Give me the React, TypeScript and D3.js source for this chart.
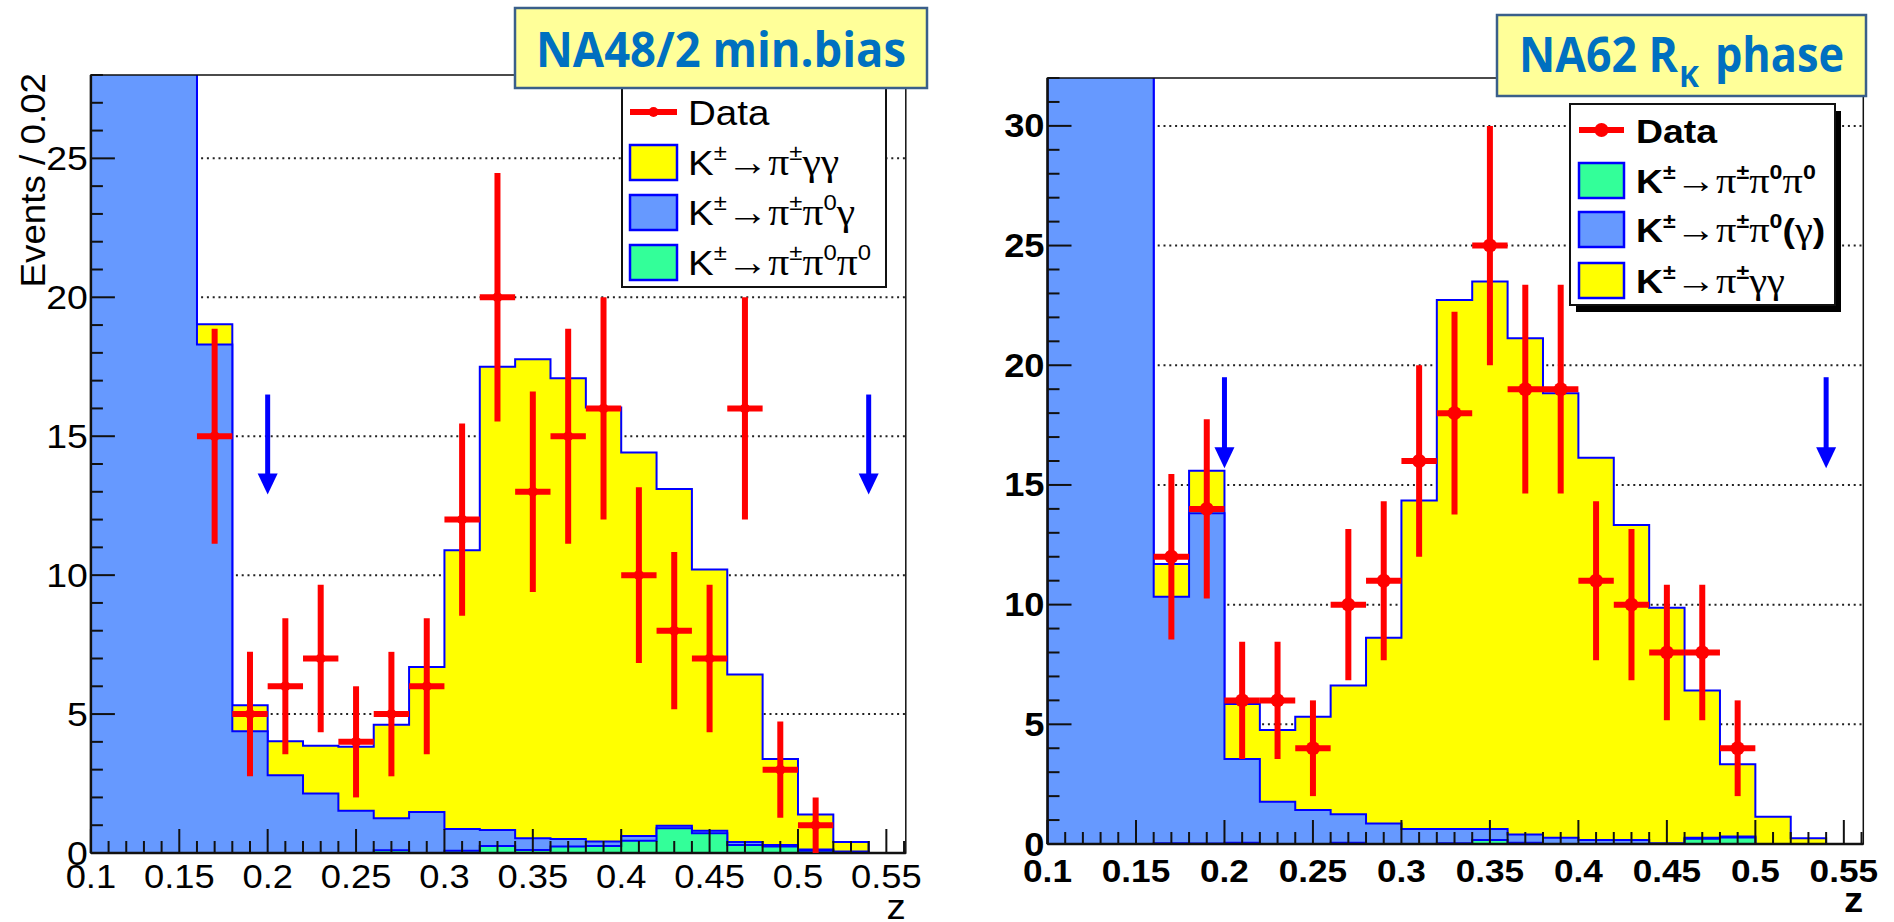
import React from "react";
import * as d3 from "d3";

// ---------------- data ----------------
const BIN_LO = [0.10, 0.12, 0.14, 0.16, 0.18, 0.20, 0.22, 0.24, 0.26, 0.28, 0.30, 0.32, 0.34, 0.36, 0.38, 0.40, 0.42, 0.44, 0.46, 0.48, 0.50, 0.52];
const BIN_WIDTH = 0.02;

// NA48/2 minimum bias (left)
const L_PI3PI0 = [0, 0, 0, 0, 0, 0, 0, 0, 0.10, 0, 0.08, 0.25, 0.11, 0.23, 0.25, 0.44, 0.89, 0.71, 0.29, 0.23, 0.08, 0.02];
const L_PIPI0G = [60, 50, 40, 18.3, 4.38, 2.80, 2.14, 1.52, 1.15, 1.48, 0.78, 0.58, 0.42, 0.27, 0.16, 0.17, 0.09, 0.09, 0.11, 0.06, 0.05, 0.03];
const L_PIGG = [0, 0, 0, 0.73, 0.94, 1.22, 1.72, 2.30, 3.37, 5.21, 10.04, 16.67, 17.24, 16.59, 15.62, 13.80, 12.12, 9.40, 6.02, 3.09, 1.26, 0.35];
const L_DATA_Z = [0.17, 0.19, 0.21, 0.23, 0.25, 0.27, 0.29, 0.31, 0.33, 0.35, 0.37, 0.39, 0.41, 0.43, 0.45, 0.47, 0.49, 0.51];
const L_DATA_N = [15, 5, 6, 7, 4, 5, 6, 12, 20, 13, 15, 16, 10, 8, 7, 16, 3, 1];
const L_DATA_ERR = [3.87, 2.24, 2.45, 2.65, 2.0, 2.24, 2.45, 3.46, 4.47, 3.61, 3.87, 4.0, 3.16, 2.83, 2.65, 4.0, 1.73, 1.0];

// NA62 R_K phase (right)
const R_PI3PI0 = [0, 0, 0, 0.03, 0.02, 0.05, 0, 0, 0.05, 0, 0, 0.03, 0.17, 0.05, 0, 0, 0, 0, 0.22, 0.27, 0, 0];
const R_PIPI0G = [60, 50, 40, 10.30, 13.80, 3.50, 1.77, 1.42, 1.19, 0.86, 0.63, 0.60, 0.46, 0.35, 0.26, 0.17, 0.17, 0.03, 0.04, 0.04, 0, 0];
const R_PIGG = [0, 0, 0, 1.37, 1.77, 2.30, 2.99, 3.90, 5.38, 7.76, 13.72, 22.10, 22.87, 20.73, 18.57, 15.97, 13.16, 9.84, 6.15, 3.02, 1.14, 0.24];
const R_DATA_Z = [0.17, 0.19, 0.21, 0.23, 0.25, 0.27, 0.29, 0.31, 0.33, 0.35, 0.37, 0.39, 0.41, 0.43, 0.45, 0.47, 0.49];
const R_DATA_N = [12, 14, 6, 6, 4, 10, 11, 16, 18, 25, 19, 19, 11, 10, 8, 8, 4];
const R_DATA_ERR = [3.46, 3.74, 2.45, 2.45, 2.0, 3.16, 3.32, 4.0, 4.24, 5.0, 4.36, 4.36, 3.32, 3.16, 2.83, 2.83, 2.0];

// cuts (arrows)
const CUTS = [0.2, 0.54];
const L_ARROW = [16.5, 12.9];
const R_ARROW = [19.5, 15.7];

// axes
const X_TICKS = [0.1, 0.15, 0.2, 0.25, 0.3, 0.35, 0.4, 0.45, 0.5, 0.55];
const X_TICK_LABELS = ["0.1", "0.15", "0.2", "0.25", "0.3", "0.35", "0.4", "0.45", "0.5", "0.55"];
const L_Y_TICKS = [0, 5, 10, 15, 20, 25];
const R_Y_TICKS = [0, 5, 10, 15, 20, 25, 30];

const L_LEGEND = ["Data", "K^{±}→π^{±}γγ", "K^{±}→π^{±}π^{0}γ", "K^{±}→π^{±}π^{0}π^{0}"];
const R_LEGEND = ["Data", "K^{±}→π^{±}π^{0}π^{0}", "K^{±}→π^{±}π^{0}(γ)", "K^{±}→π^{±}γγ"];

// ---------------- styling ----------------
const SANS = "'Liberation Sans', Arial, Helvetica, sans-serif";
const SERIF = "'Liberation Serif', 'DejaVu Serif', serif";
const C_YELLOW = "#ffff00";
const C_BLUE = "#6699ff";
const C_GREEN = "#33ff99";
const C_LINE = "#0000ff";
const C_RED = "#ff0000";

const isGreek = (ch: string) => /[α-ωΑ-Ω→]/.test(ch);

function Rich({ x, y, text, size, bold, anchor = "start", sx = 1.1, fill = "#000" }: any) {
  const parts: { s: string; sup: boolean }[] = [];
  const re = /\^\{([^}]*)\}|([^^]+)/g;
  let m;
  while ((m = re.exec(text)) !== null) {
    if (m[1] !== undefined) parts.push({ s: m[1], sup: true });
    else parts.push({ s: m[2], sup: false });
  }
  const runs: { s: string; sup: boolean; greek: boolean }[] = [];
  parts.forEach((p) => {
    let cur = "";
    let g: boolean | null = null;
    for (const ch of p.s) {
      const gg = isGreek(ch);
      if (g === null || gg === g) {
        cur += ch;
        g = gg;
      } else {
        runs.push({ s: cur, sup: p.sup, greek: !!g });
        cur = ch;
        g = gg;
      }
    }
    if (cur) runs.push({ s: cur, sup: p.sup, greek: !!g });
  });
  let shift = 0;
  return (
    <text
      transform={`translate(${x},${y}) scale(${sx},1)`}
      textAnchor={anchor}
      fontSize={size}
      fontWeight={bold ? "bold" : "normal"}
      fontFamily={SANS}
      fill={fill}
    >
      {runs.map((r, i) => {
        const want = r.sup ? -0.42 * size : 0;
        const dy = want - shift;
        shift = want;
        return (
          <tspan
            key={i}
            dy={dy}
            fontSize={r.sup ? size * 0.62 : r.greek ? size * 1.08 : size}
            fontFamily={r.greek ? SERIF : SANS}
            fontWeight={r.greek ? "normal" : bold ? "bold" : "normal"}
          >
            {r.s}
          </tspan>
        );
      })}
    </text>
  );
}

function Panel(props: any) {
  const {
    id, x0, x1, yt, yb, yMax, yTicks, bold, green, blue, yellow,
    dz, dn, de, arrow, legend, legendGeom, yTitle, markerR, tickSize, labelBase, zPos,
  } = props;

  const x = d3.scaleLinear().domain([0.1, 0.561]).range([x0, x1]);
  const y = d3.scaleLinear().domain([0, yMax]).range([yb, yt]);

  const rows = BIN_LO.map((lo, i) => ({ lo, g: green[i], b: blue[i], s: yellow[i] }));
  const stacked = d3.stack<any>().keys(["g", "b", "s"])(rows);

  const stepPath = (tops: number[]) => {
    let p = `M${x(BIN_LO[0])},${y(0)}`;
    tops.forEach((v, i) => {
      p += `L${x(BIN_LO[i])},${y(v)}L${x(BIN_LO[i] + BIN_WIDTH)},${y(v)}`;
    });
    p += `L${x(BIN_LO[BIN_LO.length - 1] + BIN_WIDTH)},${y(0)}Z`;
    return p;
  };
  const topG = stacked[0].map((d) => d[1]);
  const topB = stacked[1].map((d) => d[1]);
  const topS = stacked[2].map((d) => d[1]);

  const xMinor = d3.range(10, 57).map((v) => v / 100);
  const yMinor = d3.range(0, Math.floor(yMax) + 1);

  const lg = legendGeom;

  return (
    <g>
      <defs>
        <clipPath id={`clip-${id}`}>
          <rect x={x0} y={yt} width={x1 - x0} height={yb - yt} />
        </clipPath>
      </defs>
      <rect x={x0} y={yt} width={x1 - x0} height={yb - yt} fill="#fff" />
      {yTicks.filter((v: number) => v > 0).map((v: number) => (
        <line key={v} x1={x0} x2={x1} y1={y(v)} y2={y(v)} stroke="#222" strokeWidth={2} strokeDasharray="2 3.8" />
      ))}
      <g clipPath={`url(#clip-${id})`}>
        <path d={stepPath(topS)} fill={C_YELLOW} stroke={C_LINE} strokeWidth={2} />
        <path d={stepPath(topB)} fill={C_BLUE} stroke={C_LINE} strokeWidth={2} />
        <path d={stepPath(topG)} fill={C_GREEN} stroke={C_LINE} strokeWidth={2} />
      </g>
      <rect x={x0} y={yt} width={x1 - x0} height={yb - yt} fill="none" stroke="#111" strokeWidth={1.5} />
      <line x1={x0} x2={x0} y1={yt} y2={yb} stroke="#111" strokeWidth={2.5} />
      <line x1={x0} x2={x1} y1={yb} y2={yb} stroke="#111" strokeWidth={2.5} />
      {xMinor.map((v) => {
        const major = X_TICKS.some((t) => Math.abs(t - v) < 1e-6);
        return <line key={v} x1={x(v)} x2={x(v)} y1={yb} y2={yb - (major ? 24 : 12)} stroke="#111" strokeWidth={2} />;
      })}
      {yMinor.map((v) => {
        const major = v % 5 === 0;
        return <line key={v} x1={x0} x2={x0 + (major ? 24 : 12)} y1={y(v)} y2={y(v)} stroke="#111" strokeWidth={2} />;
      })}
      {X_TICKS.map((t, i) => (
        <Rich key={t} x={x(t)} y={labelBase} text={X_TICK_LABELS[i]} size={tickSize} bold={bold} anchor="middle" />
      ))}
      {yTicks.map((t: number) => (
        <Rich key={t} x={x0 - 3} y={y(t) + tickSize * 0.36} text={String(t)} size={tickSize + 1} bold={bold} anchor="end" />
      ))}
      <Rich x={x1} y={zPos} text="z" size={35} bold={bold} anchor="end" />
      {yTitle && (
        <text transform={`translate(45,${yt - 2}) rotate(-90) scale(1.05,1)`} textAnchor="end" fontSize={35} fontFamily={SANS}>
          {yTitle}
        </text>
      )}
      <g clipPath={`url(#clip-${id})`}>
        {dz.map((z: number, i: number) => (
          <g key={z}>
            <line x1={x(z)} x2={x(z)} y1={y(Math.max(0, dn[i] - de[i]))} y2={y(dn[i] + de[i])} stroke={C_RED} strokeWidth={6} />
            <line x1={x(z - BIN_WIDTH / 2)} x2={x(z + BIN_WIDTH / 2)} y1={y(dn[i])} y2={y(dn[i])} stroke={C_RED} strokeWidth={6} />
            <circle cx={x(z)} cy={y(dn[i])} r={markerR} fill={C_RED} />
          </g>
        ))}
      </g>
      {CUTS.map((c) => (
        <g key={c}>
          <line x1={x(c)} x2={x(c)} y1={y(arrow[0])} y2={y(arrow[1]) - 18} stroke={C_LINE} strokeWidth={5} />
          <path
            d={`M${x(c) - 10},${y(arrow[1]) - 21}L${x(c) + 10},${y(arrow[1]) - 21}L${x(c)},${y(arrow[1])}Z`}
            fill={C_LINE}
          />
        </g>
      ))}
      {lg.shadow && <rect x={lg.x + 6} y={lg.y + 7} width={lg.w} height={lg.h} fill="#000" />}
      <rect x={lg.x} y={lg.y} width={lg.w} height={lg.h} fill="#fff" stroke="#111" strokeWidth={2} />
      {legend.map((lab: string, i: number) => {
        const cy = lg.rows[i];
        const isData = lab === "Data";
        const fill = lg.colors[i];
        return (
          <g key={lab}>
            {isData ? (
              <g>
                <line x1={lg.bx} x2={lg.bx + lg.bw} y1={cy} y2={cy} stroke={C_RED} strokeWidth={6} />
                <circle cx={lg.bx + lg.bw / 2} cy={cy} r={markerR} fill={C_RED} />
              </g>
            ) : (
              <rect x={lg.bx} y={cy - 17} width={lg.bw} height={35} fill={fill} stroke={C_LINE} strokeWidth={2.5} />
            )}
            <Rich x={lg.tx} y={cy + 13} text={lab} size={lg.fs} bold={bold} sx={lg.sx} />
          </g>
        );
      })}
    </g>
  );
}

export default function App() {
  return (
    <svg
      width={1894}
      height={922}
      style={{ position: "absolute", left: 0, top: 0, background: "#fff" }}
      fontFamily={SANS}
    >
      <rect x={0} y={0} width={1894} height={922} fill="#fff" />
      <Panel
        id="left"
        x0={90.9}
        x1={905.8}
        yt={75}
        yb={853}
        yMax={28}
        yTicks={L_Y_TICKS}
        bold={false}
        green={L_PI3PI0}
        blue={L_PIPI0G}
        yellow={L_PIGG}
        dz={L_DATA_Z}
        dn={L_DATA_N}
        de={L_DATA_ERR}
        arrow={L_ARROW}
        legend={L_LEGEND}
        legendGeom={{
          x: 622, y: 82, w: 264, h: 205, shadow: false,
          rows: [112, 162, 212, 262],
          colors: [C_RED, C_YELLOW, C_BLUE, C_GREEN],
          bx: 630, bw: 47, tx: 688, fs: 35, sx: 1.1,
        }}
        yTitle="Events / 0.02"
        markerR={5}
        tickSize={33}
        labelBase={888}
        zPos={919}
      />
      <Panel
        id="right"
        x0={1047.5}
        x1={1863.3}
        yt={78}
        yb={844}
        yMax={32}
        yTicks={R_Y_TICKS}
        bold={true}
        green={R_PI3PI0}
        blue={R_PIPI0G}
        yellow={R_PIGG}
        dz={R_DATA_Z}
        dn={R_DATA_N}
        de={R_DATA_ERR}
        arrow={R_ARROW}
        legend={R_LEGEND}
        legendGeom={{
          x: 1570, y: 104, w: 265, h: 201, shadow: true,
          rows: [130, 180, 229, 280],
          colors: [C_RED, C_GREEN, C_BLUE, C_YELLOW],
          bx: 1579, bw: 45, tx: 1636, fs: 34, sx: 1.1,
        }}
        markerR={7}
        tickSize={32}
        labelBase={882}
        zPos={912}
      />
      <g>
        <rect x={515} y={8} width={412} height={80} fill="#ffff99" stroke="#3a5f8a" strokeWidth={2.5} />
        <text x={536} y={67} fontSize={48} fontWeight="bold" fontFamily="'Open Sans', 'DejaVu Sans', sans-serif" fill="#0070c0" textLength={370} lengthAdjust="spacingAndGlyphs">
          NA48/2 min.bias
        </text>
      </g>
      <g>
        <rect x={1497} y={15} width={369} height={81} fill="#ffff99" stroke="#3a5f8a" strokeWidth={2.5} />
        <text x={1519} y={72} fontSize={48} fontWeight="bold" fontFamily="'Open Sans', 'DejaVu Sans', sans-serif" fill="#0070c0" textLength={159} lengthAdjust="spacingAndGlyphs">
          NA62 R
        </text>
        <text x={1679} y={87} fontSize={28} fontWeight="bold" fontFamily="'Open Sans', 'DejaVu Sans', sans-serif" fill="#0070c0" textLength={20} lengthAdjust="spacingAndGlyphs">
          K
        </text>
        <text x={1715} y={72} fontSize={48} fontWeight="bold" fontFamily="'Open Sans', 'DejaVu Sans', sans-serif" fill="#0070c0" textLength={129} lengthAdjust="spacingAndGlyphs">
          phase
        </text>
      </g>
    </svg>
  );
}
